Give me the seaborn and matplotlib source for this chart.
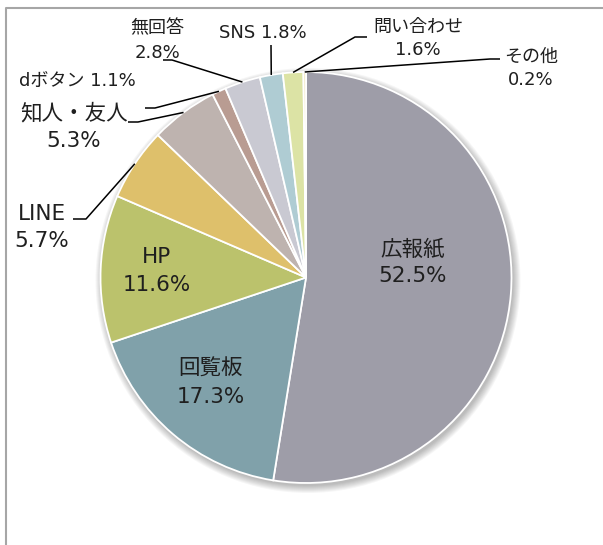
import numpy as np
import matplotlib.pyplot as plt
import seaborn as sns
from matplotlib.patches import Circle

# ==========================================
# DATA
# ==========================================
categories = ["広報紙", "回覧板", "HP", "LINE", "知人・友人",
              "dボタン", "無回答", "SNS", "問い合わせ", "その他"]
shares = [52.5, 17.3, 11.6, 5.7, 5.3, 1.1, 2.8, 1.8, 1.6, 0.2]
colors = ["#9E9DA8", "#80A1AA", "#BBC26C", "#DEC06B", "#BEB3AF",
          "#B99C92", "#C9C9D2", "#AFCCD3", "#DCE3A5", "#EDE3B4"]

# ==========================================
# LAYOUT (pixel coords, y grows downward)
# ==========================================
W, H = 603, 545
CX, CY, R = 306, 277.5, 205.5
BIG, SMALL = 15.5, 13

# name -> (x, y of name line, y of percent line or None for one line, size)
label_pos = {
    "広報紙": (413, 249, 276, BIG),
    "回覧板": (211, 369, 397, BIG),
    "HP": (157, 257, 285, BIG),
    "LINE": (42, 214, 241, BIG),
    "知人・友人": (74, 113, 141, BIG),
    "dボタン": (77, 81, None, SMALL),
    "無回答": (157, 28, 53, SMALL),
    "SNS": (263, 33, None, SMALL),
    "問い合わせ": (418, 27, 50, SMALL),
    "その他": (531, 57, 80, SMALL),
}

# name -> (label end, elbow); the third point is the wedge edge
leaders = {
    "LINE": ((73, 219), (86, 219)),
    "知人・友人": ((128, 122), (138, 122)),
    "dボタン": ((145, 108), (155, 108)),
    "無回答": ((163, 60), (172, 60)),
    "SNS": ((271, 45), (271, 45)),
    "問い合わせ": ((367, 37), (355, 37)),
    "その他": ((500, 59), (490, 59)),
}

sns.set_theme(style="white")
plt.rcParams['font.family'] = ['DejaVu Sans', 'Noto Sans CJK JP']

fig = plt.figure(figsize=(W / 100, H / 100), dpi=100)
ax = fig.add_axes([0, 0, 1, 1])
ax.set_xlim(0, W)
ax.set_ylim(H, 0)  # y inverted -> startangle -90 is the top, counterclock=True draws clockwise
ax.set_aspect('equal')
ax.axis('off')

# soft drop shadow
for k in range(8):
    ax.add_patch(Circle((CX + 2, CY + 3), R + k, color='black', alpha=0.035, lw=0, zorder=0))

wedges, _ = ax.pie(shares, colors=colors, startangle=-90, counterclock=True,
                   center=(CX, CY), radius=R, frame=True,
                   wedgeprops=dict(edgecolor='white', linewidth=1.3))
for w in wedges:
    w.set_zorder(2)
ax.set_xlim(0, W)
ax.set_ylim(H, 0)
ax.axis('off')

text_color = '#1F1F1F'
for name, pct in zip(categories, shares):
    x, y1, y2, size = label_pos[name]
    if y2 is None:
        ax.text(x, y1, f"{name} {pct:.1f}%", ha='center', va='center',
                fontsize=size, color=text_color, zorder=5)
    else:
        ax.text(x, y1, name, ha='center', va='center', fontsize=size, color=text_color, zorder=5)
        ax.text(x, y2, f"{pct:.1f}%", ha='center', va='center', fontsize=size, color=text_color, zorder=5)

# leader lines from the label to the middle of each small wedge
for w, name in zip(wedges, categories):
    if name not in leaders:
        continue
    mid = np.deg2rad((w.theta1 + w.theta2) / 2)
    edge = (CX + R * np.cos(mid), CY + R * np.sin(mid))
    start, elbow = leaders[name]
    xs = [start[0], elbow[0], edge[0]]
    ys = [start[1], elbow[1], edge[1]]
    ax.plot(xs, ys, color='black', lw=1.1, zorder=4, solid_capstyle='butt')

# chart area frame (only left and top edges are visible in the crop)
ax.plot([6, 6, W], [H, 8, 8], color='#A6A6A6', lw=1.5, zorder=6, clip_on=False)

fig.savefig('out.png', dpi=100)
